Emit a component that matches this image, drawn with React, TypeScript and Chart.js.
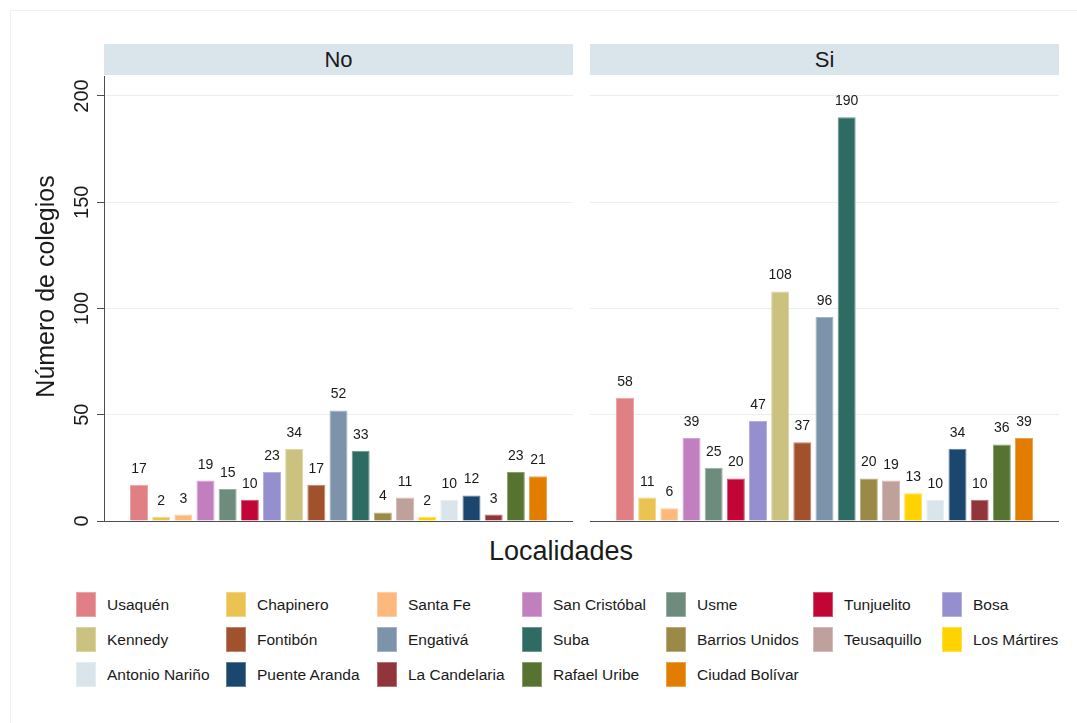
import React, { useEffect, useRef } from "react";
import { Chart, registerables } from "chart.js";

Chart.register(...registerables);

// ---------- DATA ----------
const localidades = [
  "Usaquén", "Chapinero", "Santa Fe", "San Cristóbal", "Usme", "Tunjuelito", "Bosa",
  "Kennedy", "Fontibón", "Engativá", "Suba", "Barrios Unidos", "Teusaquillo", "Los Mártires",
  "Antonio Nariño", "Puente Aranda", "La Candelaria", "Rafael Uribe", "Ciudad Bolívar",
];
const colores = [
  "#e18084", "#eac350", "#fdb97d", "#c17fbf", "#6d8c7e", "#c10534", "#958ecf",
  "#cbc27f", "#a1522d", "#7c93a9", "#2e6b62", "#9b8948", "#bfa19c", "#ffd201",
  "#d9e5eb", "#1b476f", "#91353b", "#56742f", "#e27d00",
];
const valoresNo = [17, 2, 3, 19, 15, 10, 23, 34, 17, 52, 33, 4, 11, 2, 10, 12, 3, 23, 21];
const valoresSi = [58, 11, 6, 39, 25, 20, 47, 108, 37, 96, 190, 20, 19, 13, 10, 34, 10, 36, 39];
const panelNames = ["No", "Si"];
const yTicks = [0, 50, 100, 150, 200];
const yMax = 209.4;
const yTitle = "Número de colegios";
const xTitle = "Localidades";

// ---------- STYLE ----------
const FONT = '"Liberation Sans", Arial, Helvetica, sans-serif';
const TEXT = "#1a1a1a";
const AXIS = "#4d4d4d";
const GRID = "#e8f0f2";
const HEADER_BG = "#d9e5eb";
const legendCols = [76, 226, 377, 522, 666, 813, 942];
const legendRows = [592, 627, 662];

function lighten(hex: string, amt: number) {
  const n = parseInt(hex.slice(1), 16);
  const r = (n >> 16) & 255, g = (n >> 8) & 255, b = n & 255;
  const f = (c: number) => Math.round(c + (255 - c) * amt);
  return `rgb(${f(r)},${f(g)},${f(b)})`;
}

const barLabelPlugin = {
  id: "barLabels",
  afterDatasetsDraw(chart: any) {
    const ctx = chart.ctx;
    ctx.save();
    ctx.fillStyle = TEXT;
    ctx.font = `14px ${FONT}`;
    ctx.textAlign = "center";
    ctx.textBaseline = "alphabetic";
    chart.data.datasets.forEach((ds: any, i: number) => {
      const el = chart.getDatasetMeta(i).data[0];
      if (!el) return;
      ctx.fillText(String(ds.data[0]), el.x, el.y - 12);
    });
    ctx.restore();
  },
};

function makeAxisPlugin(canvasLeft: number) {
  return {
    id: "rotatedAxis",
    afterDraw(chart: any) {
      const ctx = chart.ctx;
      const s = chart.scales.y;
      ctx.save();
      ctx.fillStyle = TEXT;
      ctx.font = `20px ${FONT}`;
      ctx.textAlign = "center";
      ctx.textBaseline = "alphabetic";
      yTicks.forEach((v) => {
        const y = s.getPixelForValue(v);
        ctx.save();
        ctx.translate(88 - canvasLeft, y);
        ctx.rotate(-Math.PI / 2);
        ctx.fillText(String(v), 0, 0);
        ctx.restore();
      });
      ctx.font = `25px ${FONT}`;
      ctx.textBaseline = "middle";
      const yc = (chart.chartArea.top + chart.chartArea.bottom) / 2 - 12;
      ctx.translate(47 - canvasLeft, yc);
      ctx.rotate(-Math.PI / 2);
      ctx.fillText(yTitle, 0, 0);
      ctx.restore();
    },
  };
}

function makeConfig(values: number[], panel: string, withAxis: boolean, canvasLeft: number): any {
  return {
    type: "bar",
    data: {
      labels: [panel],
      datasets: localidades.map((l, i) => ({
        label: l,
        data: [values[i]],
        backgroundColor: colores[i],
        borderColor: lighten(colores[i], 0.3),
        borderWidth: 1,
        categoryPercentage: 0.898,
        barPercentage: 0.812,
      })),
    },
    options: {
      responsive: false,
      animation: false,
      devicePixelRatio: 1,
      layout: { padding: { top: 0, bottom: 12, left: 0, right: 0 } },
      plugins: { legend: { display: false }, tooltip: { enabled: false } },
      scales: {
        x: { display: false },
        y: {
          min: 0,
          max: yMax,
          afterBuildTicks: (s: any) => {
            s.ticks = yTicks.map((v) => ({ value: v }));
          },
          afterFit: (s: any) => {
            s.width = withAxis ? 104 - canvasLeft : 0;
          },
          ticks: { display: false },
          grid: {
            color: (c: any) => (c.tick && c.tick.value === 0 ? AXIS : GRID),
            lineWidth: 1,
            drawTicks: withAxis,
            tickLength: 7,
            tickColor: AXIS,
          },
          border: { display: withAxis, color: AXIS, width: 1 },
        },
      },
    },
    plugins: withAxis ? [barLabelPlugin, makeAxisPlugin(canvasLeft)] : [barLabelPlugin],
  };
}

function Panel(props: { values: number[]; name: string; withAxis: boolean; left: number; width: number }) {
  const ref = useRef<HTMLCanvasElement | null>(null);
  useEffect(() => {
    if (!ref.current) return;
    const chart = new Chart(ref.current, makeConfig(props.values, props.name, props.withAxis, props.left));
    return () => chart.destroy();
  }, []);
  return (
    <canvas
      ref={ref}
      width={props.width}
      height={457}
      style={{ position: "absolute", left: props.left, top: 76, width: props.width, height: 457 }}
    />
  );
}

export default function App() {
  const headers = [
    { name: panelNames[0], left: 104 },
    { name: panelNames[1], left: 590 },
  ];
  return (
    <div
      style={{
        position: "absolute",
        left: 0,
        top: 0,
        width: 1077,
        height: 723,
        overflow: "hidden",
        background: "#ffffff",
        fontFamily: FONT,
        color: TEXT,
      }}
    >
      <div
        style={{
          position: "absolute",
          left: 10,
          top: 10,
          width: 1100,
          height: 760,
          border: "1px solid #f0f0f0",
        }}
      />
      {headers.map((h) => (
        <div
          key={h.name}
          style={{
            position: "absolute",
            left: h.left,
            top: 44,
            width: 469,
            height: 31,
            background: HEADER_BG,
            textAlign: "center",
            fontSize: 22,
            lineHeight: "31px",
          }}
        >
          {h.name}
        </div>
      ))}
      <Panel values={valoresNo} name={panelNames[0]} withAxis={true} left={20} width={553} />
      <Panel values={valoresSi} name={panelNames[1]} withAxis={false} left={590} width={469} />
      <div
        style={{
          position: "absolute",
          left: 561,
          top: 536,
          transform: "translateX(-50%)",
          fontSize: 27,
          whiteSpace: "nowrap",
        }}
      >
        {xTitle}
      </div>
      {localidades.map((l, i) => {
        const col = i % 7;
        const row = Math.floor(i / 7);
        return (
          <div
            key={l}
            style={{ position: "absolute", left: legendCols[col], top: legendRows[row], height: 25 }}
          >
            <div
              style={{
                position: "absolute",
                left: 0,
                top: 0,
                width: 20,
                height: 25,
                boxSizing: "border-box",
                background: colores[i],
                border: `1px solid ${lighten(colores[i], 0.3)}`,
              }}
            />
            <div
              style={{
                position: "absolute",
                left: 31,
                top: 0,
                lineHeight: "25px",
                fontSize: 15.5,
                whiteSpace: "nowrap",
              }}
            >
              {l}
            </div>
          </div>
        );
      })}
    </div>
  );
}
